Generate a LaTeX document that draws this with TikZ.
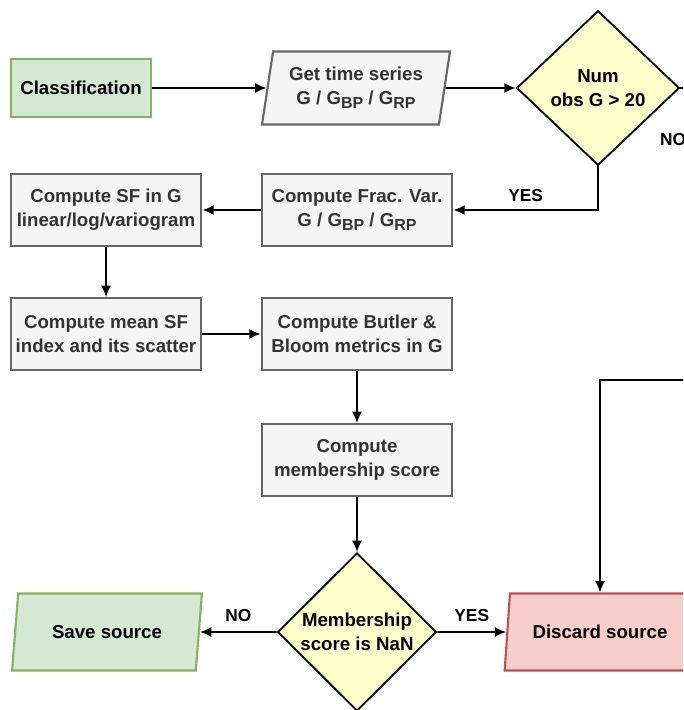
\documentclass[tikz,border=0pt]{standalone}
\usepackage{fontspec}
\setmainfont{Liberation Sans}
\usepackage{xcolor}
\usetikzlibrary{shapes.geometric, arrows.meta, positioning}
\definecolor{boxfill}{RGB}{245,245,245}
\definecolor{boxline}{RGB}{102,102,102}
\definecolor{boxtext}{RGB}{51,51,51}
\definecolor{okfill}{RGB}{213,232,212}
\definecolor{okline}{RGB}{130,179,102}
\definecolor{badfill}{RGB}{248,206,204}
\definecolor{badline}{RGB}{184,84,80}
\definecolor{askfill}{RGB}{255,255,204}
\newcommand{\band}[1]{\raisebox{-0.45ex}{\fontsize{12}{12}\selectfont #1}}

\tikzset{
    flowbox/.style={rectangle, draw=boxline, fill=boxfill, text=boxtext, line width=1.6pt,
        minimum width=143pt, minimum height=54pt, align=center, inner sep=1pt},
    startbox/.style={rectangle, draw=okline, fill=okfill, line width=1.6pt,
        minimum width=105pt, minimum height=43.5pt, align=center},
    iobox/.style={trapezium, trapezium left angle=78, trapezium right angle=102,
        trapezium stretches=true, draw=boxline, fill=boxfill, text=boxtext, line width=1.6pt,
        minimum width=141pt, minimum height=54.75pt, align=center, inner sep=0pt},
    endbox/.style={trapezium, trapezium left angle=74, trapezium right angle=106,
        trapezium stretches=true, line width=1.6pt,
        minimum width=143pt, minimum height=57.75pt, align=center, inner sep=0pt},
    askbox/.style={diamond, draw=black, fill=askfill, line width=1.4pt,
        align=center, inner sep=0pt},
    flow/.style={-{Latex[length=8.5pt,width=7.5pt]}, line width=1.3pt},
    tag/.style={font=\fontsize{13}{15}\selectfont\bfseries}
}

\begin{document}
\begin{tikzpicture}[x=0.75pt, y=-0.75pt, font=\fontsize{14}{18}\selectfont\bfseries]
    % crop to the visible part
    \clip (0,0) rectangle (683,710);
    \fill[white] (0,0) rectangle (683,710);

    % top row
    \node[startbox] (classif) at (81,88) {Classification};
    \node[iobox] (series) at (356,88) {Get time series\\G / G\band{BP} / G\band{RP}};
    \node[askbox, minimum width=122pt, minimum height=116pt] (numobs) at (598,88) {Num\\obs G > 20};

    % compute steps
    \node[flowbox] (fracvar) at (357,210) {Compute Frac. Var.\\G / G\band{BP} / G\band{RP}};
    \node[flowbox] (sfcomp) at (106,210) {Compute SF in G\\linear/log/variogram};
    \node[flowbox] (meansf) at (106,334) {Compute mean SF\\index and its scatter};
    \node[flowbox] (butler) at (357,334) {Compute Butler \&\\Bloom metrics in G};
    \node[flowbox] (member) at (357,460) {Compute\\membership score};

    % last decision
    \node[askbox, minimum width=119pt, minimum height=118.5pt] (isnan) at (357,632) {Membership\\score is NaN};
    \node[endbox, draw=okline, fill=okfill] (save) at (107,632) {Save source};
    \node[endbox, draw=badline, fill=badfill] (discard) at (600,632) {Discard source};

    % loose ends leaving the crop
    \coordinate (noexit) at (690,88);
    \coordinate (backin) at (690,380);
    \node[tag] (nolbl) at (673,140) {NO};

    % connectors
    \draw[flow] (classif) -- (series);
    \draw[flow] (series) -- (numobs);
    \draw[line width=1.3pt] (numobs.east) -- (noexit);
    \draw[flow] (numobs.south) |- (fracvar.east) node[tag, pos=0.75, above=2pt] {YES};
    \draw[flow] (fracvar) -- (sfcomp);
    \draw[flow] (sfcomp) -- (meansf);
    \draw[flow] (meansf) -- (butler);
    \draw[flow] (butler) -- (member);
    \draw[flow] (member) -- (isnan);
    \draw[flow] (isnan) -- (save) node[tag, midway, above=4pt] {NO};
    \draw[flow] (isnan) -- (discard) node[tag, midway, above=4pt] {YES};
    \draw[flow] (backin) -| (discard.north);
\end{tikzpicture}
\end{document}
